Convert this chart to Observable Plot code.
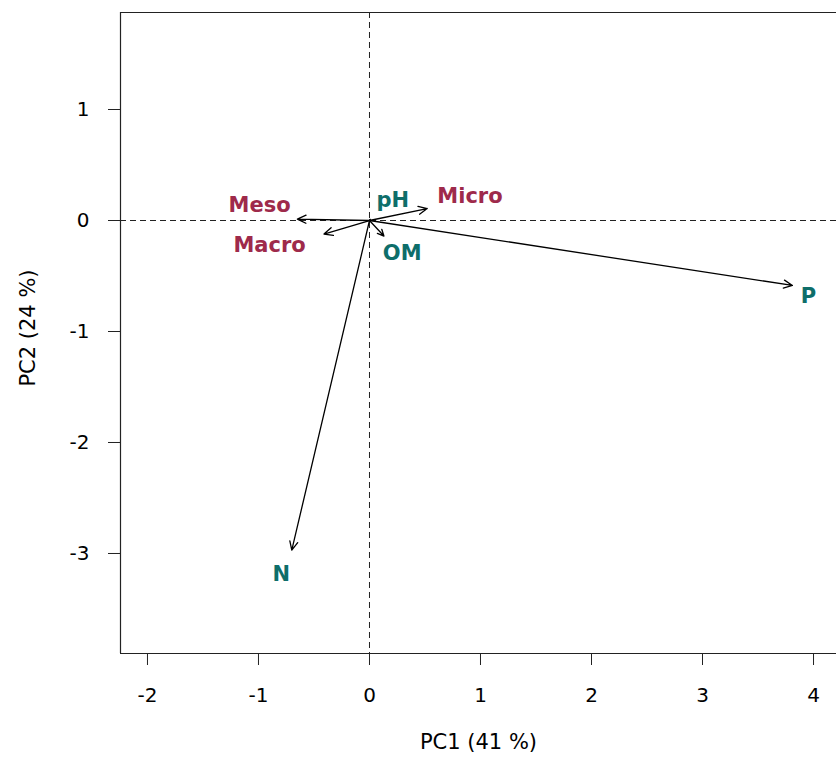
<!DOCTYPE html>
<html><head><meta charset="utf-8">
<script src="https://cdn.jsdelivr.net/npm/d3@7"></script>
<script src="https://cdn.jsdelivr.net/npm/@observablehq/plot@0.6"></script>
<style>html,body{margin:0;padding:0;background:#fff}</style>
</head><body><div id="chart"></div>
<script>
// PCA loadings (arrow tips) and label positions
const variables = ["Meso", "Macro", "Micro", "pH", "OM", "P", "N"];
const groups = ["biotic", "biotic", "biotic", "abiotic", "abiotic", "abiotic", "abiotic"];
const pc1 = [-0.65, -0.41, 0.52, 0.008, 0.13, 3.81, -0.70];
const pc2 = [0.013, -0.122, 0.108, 0.01, -0.14, -0.585, -2.97];
const labelX = [-0.99, -0.90, 0.905, 0.21, 0.295, 3.955, -0.795];
const labelY = [0.135, -0.22, 0.218, 0.18, -0.296, -0.683, -3.19];
const xTicks = [-2, -1, 0, 1, 2, 3, 4];
const yTicks = [-3, -2, -1, 0, 1];
const xDomain = [-2.243, 4.207];
const yDomain = [-3.901, 1.874];
const xTitle = "PC1 (41 %)";
const yTitle = "PC2 (24 %)";
const groupColors = {domain: ["biotic", "abiotic"], range: ["#9E2A4B", "#0E6E6A"]};

const data = variables.map((v, i) => ({
  name: v, group: groups[i], pc1: pc1[i], pc2: pc2[i], lx: labelX[i], ly: labelY[i]
}));

const ink = "#222";
const chart = Plot.plot({
  width: 836,
  height: 760,
  marginLeft: 120,
  marginRight: 0,
  marginTop: 12,
  marginBottom: 107,
  x: {domain: xDomain},
  y: {domain: yDomain},
  color: groupColors,
  style: {fontFamily: "DejaVu Sans", background: "white", color: "black"},
  marks: [
    Plot.ruleX([0], {stroke: ink, strokeDasharray: "6,4", strokeWidth: 1}),
    Plot.ruleY([0], {stroke: ink, strokeDasharray: "6,4", strokeWidth: 1}),
    Plot.ruleX([xDomain[0]], {stroke: ink, strokeWidth: 1.2}),
    Plot.ruleY([yDomain[0], yDomain[1]], {stroke: ink, strokeWidth: 1.2}),
    Plot.arrow(data, {x1: () => 0, y1: () => 0, x2: "pc1", y2: "pc2", stroke: "black", strokeWidth: 1.3, headLength: 11, headAngle: 50}),
    Plot.text(data, {x: "lx", y: "ly", text: "name", fill: "group", fontWeight: "bold", fontSize: 21}),
    Plot.axisX(xTicks, {tickSize: 12, tickPadding: 22, fontSize: 20, label: null, stroke: ink, tickFormat: d => String(d)}),
    Plot.axisY(yTicks, {tickSize: 12, tickPadding: 19, fontSize: 20, label: null, stroke: ink, tickFormat: d => String(d)}),
    Plot.text([xTitle], {frameAnchor: "bottom", dy: 95, fontSize: 21}),
    Plot.text([yTitle], {frameAnchor: "left", textAnchor: "middle", dx: -92, dy: -5, rotate: -90, fontSize: 21})
  ]
});
document.getElementById("chart").appendChild(chart);
</script>
</body></html>
